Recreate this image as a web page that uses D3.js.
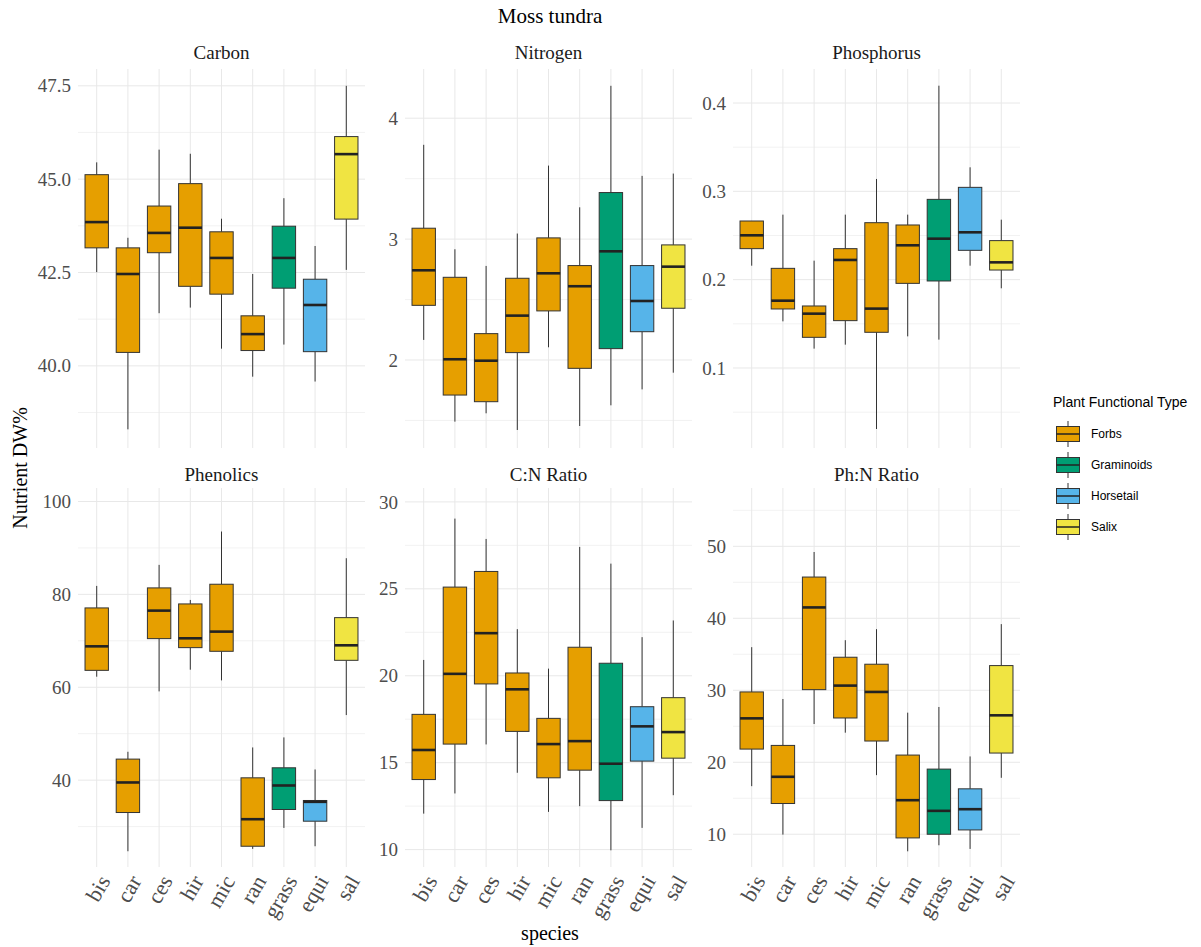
<!DOCTYPE html>
<html><head><meta charset="utf-8">
<script src="https://cdn.jsdelivr.net/npm/d3@7"></script>
<style>body{margin:0;background:#fff}</style>
</head><body><svg id="c" width="1201" height="947"></svg>
<script>
const species = ["bis","car","ces","hir","mic","ran","grass","equi","sal"];
const speciesPFT = ["Forbs","Forbs","Forbs","Forbs","Forbs","Forbs","Graminoids","Horsetail","Salix"];
const pftLevels = ["Forbs","Graminoids","Horsetail","Salix"];
const pftColors = ["#E69F00","#009E73","#56B4E9","#F0E442"];
const nutrients = ["Carbon","Nitrogen","Phosphorus","Phenolics","C:N Ratio","Ph:N Ratio"];

// per species: [lower whisker, Q1, median, Q3, upper whisker]
const carbon = [
  [42.51,43.16,43.85,45.12,45.45],[38.30,40.36,42.46,43.16,43.43],[41.41,43.03,43.56,44.28,45.79],
  [41.56,42.13,43.70,44.88,45.68],[40.46,41.92,42.89,43.59,43.94],[39.71,40.41,40.85,41.34,42.46],
  [40.57,42.08,42.89,43.74,44.49],[39.58,40.38,41.63,42.32,43.21],[42.57,43.93,45.67,46.14,47.50]];
const nitrogen = [
  [2.166,2.452,2.742,3.09,3.78],[1.49,1.71,2.006,2.684,2.916],[1.559,1.655,1.994,2.218,2.778],
  [1.421,2.061,2.367,2.676,3.046],[2.105,2.406,2.717,3.01,3.608],[1.454,1.931,2.61,2.781,3.263],
  [1.625,2.094,2.899,3.385,4.268],[1.757,2.234,2.488,2.781,3.523],[1.895,2.428,2.772,2.952,3.542]];
const phosphorus = [
  [0.2158,0.2351,0.2502,0.2664,0.2664],[0.1528,0.1668,0.1762,0.2128,0.2736],[0.1219,0.1347,0.1615,0.1702,0.2215],
  [0.1264,0.1536,0.2223,0.2351,0.2736],[0.0309,0.1404,0.1672,0.2645,0.314],[0.1358,0.1958,0.2389,0.2619,0.2736],
  [0.1321,0.1985,0.2464,0.2909,0.4196],[0.2158,0.2332,0.2536,0.3045,0.3272],[0.1902,0.2109,0.2196,0.2442,0.2679]];
const phenolics = [
  [62.27,63.64,68.81,77.08,81.82],[24.69,33.03,39.50,44.53,46.11],[59.11,70.47,76.50,81.39,86.35],
  [63.78,68.53,70.54,77.94,78.80],[61.48,67.74,71.98,82.18,93.53],[25.20,25.77,31.59,40.50,47.04],
  [29.72,33.68,38.85,42.66,49.20],[25.77,31.16,35.33,35.62,42.30],[54.01,65.80,69.03,74.99,87.78]];
const cnRatio = [
  [12.07,14.03,15.73,17.78,20.91],[13.23,16.07,20.11,25.10,29.04],[16.05,19.53,22.45,26.00,27.87],
  [14.42,16.80,19.22,20.16,22.68],[12.17,14.13,16.07,17.55,20.41],[12.50,14.57,16.24,21.64,27.41],
  [9.96,12.82,14.94,20.72,26.45],[11.25,15.09,17.09,18.22,22.22],[13.13,15.26,16.76,18.74,23.18]];
const phnRatio = [
  [16.68,21.83,26.10,29.77,35.99],[9.95,14.27,17.98,22.34,28.79],[25.31,30.09,41.51,45.73,49.21],
  [24.11,26.15,30.65,34.59,36.96],[18.21,22.95,29.77,33.62,38.49],[7.63,9.49,14.73,21.0,26.89],
  [8.47,10.0,13.25,19.05,27.68],[7.96,10.60,13.48,16.31,20.81],[17.84,21.28,26.52,33.43,39.19]];
const panelData = [carbon, nitrogen, phosphorus, phenolics, cnRatio, phnRatio];

// y scale ranges (include hidden outliers) and ticks
const yDomains = [[37.8,47.95],[1.272,4.407],[0.0094,0.4385],[21.3,102.9],[9.0,30.8],[5.45,58.1]];
const majorTicks = [[40,42.5,45,47.5],[2,3,4],[0.1,0.2,0.3,0.4],[40,60,80,100],[10,15,20,25,30],[10,20,30,40,50]];
const minorTicks = [[38.75,41.25,43.75,46.25],[1.5,2.5,3.5],[0.05,0.15,0.25,0.35],[30,50,70,90],[12.5,17.5,22.5,27.5],[15,25,35,45,55]];
const tickFormats = [".1f","d",".1f","d","d","d"];

const SERIF = "'Liberation Serif','Times New Roman',serif";
const SANS = "'Liberation Sans',Arial,sans-serif";
const svg = d3.select("#c");
const colX = [78, 405, 733], panelW = 287;
const rowY = [[69,448],[488,867]];
const color = d3.scaleOrdinal().domain(pftLevels).range(pftColors);

panelData.forEach((data, i) => {
  const col = i % 3, row = Math.floor(i / 3);
  const x0 = colX[col], x1 = x0 + panelW;
  const [yT, yB] = rowY[row];
  const x = d3.scalePoint().domain(species).range([x0, x1]).padding(0.6);
  const y = d3.scaleLinear().domain(yDomains[i]).range([yB, yT]);
  const g = svg.append("g");
  // grid
  g.selectAll(".mn").data(minorTicks[i]).join("line")
    .attr("x1", x0).attr("x2", x1).attr("y1", d => y(d)).attr("y2", d => y(d))
    .attr("stroke", "#f0f0f0").attr("stroke-width", 0.9);
  g.selectAll(".mj").data(majorTicks[i]).join("line")
    .attr("x1", x0).attr("x2", x1).attr("y1", d => y(d)).attr("y2", d => y(d))
    .attr("stroke", "#e8e8e8").attr("stroke-width", 1);
  g.selectAll(".vx").data(species).join("line")
    .attr("x1", d => x(d)).attr("x2", d => x(d)).attr("y1", yT).attr("y2", yB)
    .attr("stroke", "#e8e8e8").attr("stroke-width", 1);
  // y axis
  const ya = svg.append("g").attr("transform", `translate(${x0},0)`)
    .call(d3.axisLeft(y).tickValues(majorTicks[i]).tickFormat(d3.format(tickFormats[i])).tickSize(0).tickPadding(7));
  ya.select(".domain").remove();
  ya.selectAll("text").attr("font-family", SERIF).attr("font-size", 19).attr("fill", "#4d4d4d");
  // x axis bottom row
  if (row === 1) {
    const xa = svg.append("g").attr("transform", `translate(0,${yB})`)
      .call(d3.axisBottom(x).tickSize(0));
    xa.select(".domain").remove();
    xa.selectAll("text").attr("font-family", SERIF).attr("font-size", 22).attr("fill", "#4d4d4d")
      .attr("y", 0).attr("dy", "0.72em").attr("text-anchor", "end")
      .attr("transform", "translate(0,6) rotate(-60)");
  }
  // strip
  svg.append("text").attr("x", (x0 + x1) / 2).attr("y", row === 0 ? 59 : 481)
    .attr("text-anchor", "middle").attr("font-family", SERIF).attr("font-size", 19).attr("fill", "#1a1a1a")
    .text(nutrients[i]);
  // boxes
  const bw = x.step() * 0.75;
  const bg = g.selectAll(".box").data(data.map((d, k) => ({s: species[k], p: speciesPFT[k], v: d}))).join("g");
  bg.append("line").attr("x1", d => x(d.s)).attr("x2", d => x(d.s))
    .attr("y1", d => y(d.v[4])).attr("y2", d => y(d.v[3])).attr("stroke", "#333").attr("stroke-width", 1);
  bg.append("line").attr("x1", d => x(d.s)).attr("x2", d => x(d.s))
    .attr("y1", d => y(d.v[1])).attr("y2", d => y(d.v[0])).attr("stroke", "#333").attr("stroke-width", 1);
  bg.append("rect").attr("x", d => x(d.s) - bw / 2).attr("width", bw)
    .attr("y", d => y(d.v[3])).attr("height", d => y(d.v[1]) - y(d.v[3]))
    .attr("fill", d => color(d.p)).attr("stroke", "#333").attr("stroke-width", 1);
  bg.append("line").attr("x1", d => x(d.s) - bw / 2).attr("x2", d => x(d.s) + bw / 2)
    .attr("y1", d => y(d.v[2])).attr("y2", d => y(d.v[2])).attr("stroke", "#222").attr("stroke-width", 2.6);
});

// titles
svg.append("text").attr("x", 550).attr("y", 23).attr("text-anchor", "middle")
  .attr("font-family", SERIF).attr("font-size", 21).attr("fill", "#000").text("Moss tundra");
svg.append("text").attr("x", 550).attr("y", 940).attr("text-anchor", "middle")
  .attr("font-family", SERIF).attr("font-size", 20).attr("fill", "#000").text("species");
svg.append("text").attr("transform", "translate(27,468) rotate(-90)").attr("text-anchor", "middle")
  .attr("font-family", SERIF).attr("font-size", 20).attr("fill", "#000").text("Nutrient DW%");

// legend
const lg = svg.append("g");
lg.append("text").attr("x", 1053).attr("y", 407).attr("font-family", SANS).attr("font-size", 14)
  .attr("fill", "#000").text("Plant Functional Type");
const legY = d3.scalePoint().domain(pftLevels).range([434, 527]);
pftLevels.forEach(p => {
  const cy = legY(p);
  lg.append("line").attr("x1", 1068).attr("x2", 1068).attr("y1", cy - 13).attr("y2", cy + 13)
    .attr("stroke", "#333").attr("stroke-width", 1);
  lg.append("rect").attr("x", 1056.5).attr("y", cy - 7.5).attr("width", 23).attr("height", 15)
    .attr("fill", color(p)).attr("stroke", "#333").attr("stroke-width", 1);
  lg.append("line").attr("x1", 1056.5).attr("x2", 1079.5).attr("y1", cy).attr("y2", cy)
    .attr("stroke", "#222").attr("stroke-width", 1.5);
  lg.append("text").attr("x", 1091).attr("y", cy).attr("dy", "0.35em").attr("font-family", SANS)
    .attr("font-size", 12).attr("fill", "#000").text(p);
});
</script></body></html>
